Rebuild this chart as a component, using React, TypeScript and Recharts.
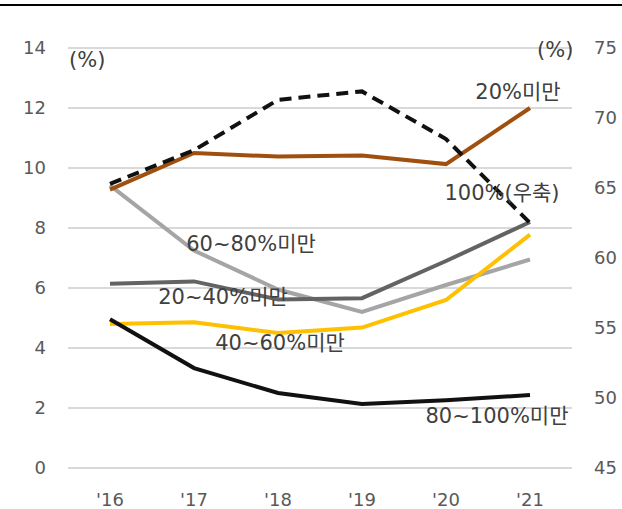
import React from 'react';
import { ComposedChart, Line, XAxis, YAxis, CartesianGrid, LabelList } from 'recharts';

const years = ["'16", "'17", "'18", "'19", "'20", "'21"];
const under20 = [9.28, 10.5, 10.38, 10.42, 10.13, 12.0];
const r20to40 = [6.14, 6.22, 5.62, 5.66, 6.9, 8.2];
const r40to60 = [4.8, 4.86, 4.5, 4.68, 5.6, 7.78];
const r60to80 = [9.42, 7.25, 5.95, 5.2, 6.1, 6.95];
const r80to100 = [4.96, 3.33, 2.5, 2.13, 2.26, 2.43];
const full100 = [65.3, 67.7, 71.3, 71.9, 68.5, 62.5];
const leftTicks = [0, 2, 4, 6, 8, 10, 12, 14];
const rightTicks = [45, 50, 55, 60, 65, 70, 75];

const seriesLabels = {
  under20: '20%미만',
  full100: '100%(우축)',
  r60to80: '60~80%미만',
  r20to40: '20~40%미만',
  r40to60: '40~60%미만',
  r80to100: '80~100%미만',
};

const data = years.map((y, i) => ({
  year: y,
  under20: under20[i],
  r20to40: r20to40[i],
  r40to60: r40to60[i],
  r60to80: r60to80[i],
  r80to100: r80to100[i],
  full100: full100[i],
}));

const FONT = "'DejaVu Sans', 'Noto Sans CJK KR', sans-serif";
const LABEL_FONT = "'DejaVu Sans', 'Noto Sans CJK KR', sans-serif";

const makeLabel = (text: string, index: number, dx: number, dy: number) => (props: any) => {
  if (props.index !== index) return null;
  return (
    <text
      x={props.x + dx}
      y={props.y + dy}
      textAnchor="middle"
      fontSize={21}
      fontFamily={LABEL_FONT}
      fill="#404040"
    >
      {text}
    </text>
  );
};

export default function App() {
  return (
    <div style={{ position: 'absolute', left: 0, top: 0, width: 622, height: 509, background: '#fff' }}>
      <div style={{ position: 'absolute', left: 0, top: 4, width: 622, height: 2, background: '#000' }} />
      <ComposedChart
        width={622}
        height={509}
        data={data}
        margin={{ top: 48, right: 0, left: 0, bottom: 0 }}
      >
        <CartesianGrid vertical={false} stroke="#D9D9D9" strokeWidth={2} yAxisId="left" />
        <XAxis
          dataKey="year"
          axisLine={false}
          tickLine={false}
          tickSize={0}
          tickMargin={25}
          height={41}
          padding={{ left: 42, right: 42 }}
          tick={{ fontSize: 18, fill: '#595959', fontFamily: FONT }}
          interval={0}
        />
        <YAxis
          yAxisId="left"
          domain={[0, 14]}
          ticks={leftTicks}
          width={68}
          axisLine={false}
          tickLine={false}
          tickSize={0}
          tickMargin={22}
          tick={{ fontSize: 18, fill: '#595959', fontFamily: FONT }}
          interval={0}
        />
        <YAxis
          yAxisId="right"
          orientation="right"
          domain={[45, 75]}
          ticks={rightTicks}
          width={50}
          axisLine={false}
          tickLine={false}
          tickSize={0}
          tickMargin={22}
          tick={{ fontSize: 18, fill: '#595959', fontFamily: FONT }}
          interval={0}
        />
        <Line yAxisId="left" dataKey="r60to80" stroke="#A5A5A5" strokeWidth={4} dot={false} isAnimationActive={false} />
        <Line yAxisId="left" dataKey="r20to40" stroke="#636363" strokeWidth={4} dot={false} isAnimationActive={false} />
        <Line yAxisId="left" dataKey="r40to60" stroke="#FFC000" strokeWidth={4} dot={false} isAnimationActive={false} />
        <Line yAxisId="left" dataKey="r80to100" stroke="#111111" strokeWidth={4} dot={false} isAnimationActive={false} />
        <Line yAxisId="left" dataKey="under20" stroke="#A0500E" strokeWidth={4} dot={false} isAnimationActive={false} />
        <Line yAxisId="right" dataKey="full100" stroke="none" dot={false} isAnimationActive={false}>
          <LabelList dataKey="full100" content={makeLabel(seriesLabels.full100, 5, -28, -23)} />
        </Line>
        <Line yAxisId="right" dataKey="full100" stroke="#111111" strokeWidth={4} strokeDasharray="12 7" dot={false} isAnimationActive={false} />

        <Line yAxisId="left" dataKey="under20" stroke="none" dot={false} isAnimationActive={false}>
          <LabelList dataKey="under20" content={makeLabel(seriesLabels.under20, 5, -12, -9)} />
        </Line>
        <Line yAxisId="left" dataKey="r60to80" stroke="none" dot={false} isAnimationActive={false}>
          <LabelList dataKey="r60to80" content={makeLabel(seriesLabels.r60to80, 1, 57, 0)} />
        </Line>
        <Line yAxisId="left" dataKey="r20to40" stroke="none" dot={false} isAnimationActive={false}>
          <LabelList dataKey="r20to40" content={makeLabel(seriesLabels.r20to40, 1, 29, 23)} />
        </Line>
        <Line yAxisId="left" dataKey="r40to60" stroke="none" dot={false} isAnimationActive={false}>
          <LabelList dataKey="r40to60" content={makeLabel(seriesLabels.r40to60, 2, 2, 17)} />
        </Line>
        <Line yAxisId="left" dataKey="r80to100" stroke="none" dot={false} isAnimationActive={false}>
          <LabelList dataKey="r80to100" content={makeLabel(seriesLabels.r80to100, 5, -33, 28)} />
        </Line>
      </ComposedChart>
      <div style={{ position: 'absolute', left: 69, top: 47, fontSize: 21, fontFamily: LABEL_FONT, color: '#404040', lineHeight: '26px' }}>(%)</div>
      <div style={{ position: 'absolute', left: 537, top: 37, fontSize: 21, fontFamily: LABEL_FONT, color: '#404040', lineHeight: '26px' }}>(%)</div>
    </div>
  );
}
